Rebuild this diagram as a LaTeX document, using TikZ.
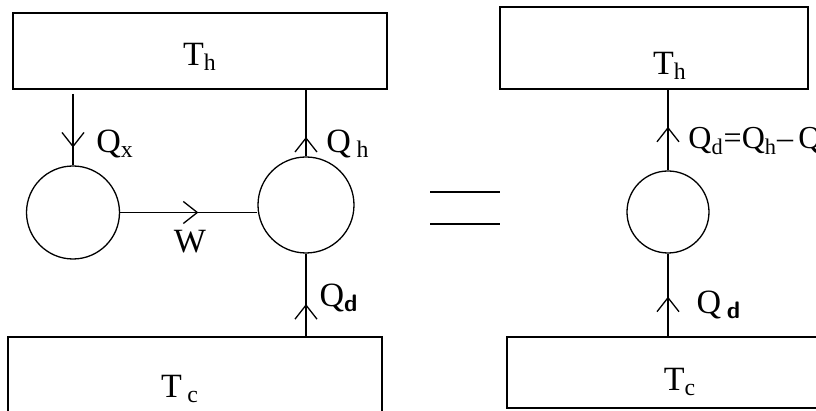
\documentclass[tikz,border=0pt]{standalone}
\usepackage{fontspec}
\setmainfont{Liberation Serif}
\usetikzlibrary{arrows.meta,positioning,calc,decorations.markings}

\tikzset{
  reservoir/.style={draw,line width=0.65pt,rectangle,inner sep=0pt},
  engine/.style={draw,line width=0.65pt,circle,inner sep=0pt},
  heatflow/.style={line width=0.65pt,postaction={decorate},
    decoration={markings,mark=at position #1 with {\arrow{Straight Barb[length=7pt,width=11pt,line width=0.65pt]}}}},
  lbl/.style={inner sep=0pt}
}

\begin{document}
\begin{tikzpicture}[x=0.5pt,y=0.5pt,font=\fontsize{17}{20}\selectfont]
  \useasboundingbox (0,0) rectangle (816,411);
  % left: engine driving a refrigerator
  \node[reservoir,minimum width=187pt,minimum height=38pt] (hot1) at (200,360) {};
  \node[reservoir,minimum width=187pt,minimum height=50pt] (cold1) at (195,24) {};
  \node[engine,minimum size=46.5pt] (eng) at (73,198.5) {};
  \node[engine,minimum size=48pt] (fridge) at (306,206) {};
  \node[lbl] (th1) at (200,354) {T\textsubscript{h}};
  \node[lbl] (tc1) at (180,22) {T\,\textsubscript{c}};
  \coordinate (qxin) at (73,317);
  \draw[heatflow=0.75] (qxin) -- (eng.north);
  \draw[heatflow=0.29] (fridge.north) -- (fridge.north |- hot1.south);
  \draw[heatflow=0.39] (fridge.south |- cold1.north) -- (fridge.south);
  \draw[heatflow=0.57] (eng.east) -- (eng.east -| fridge.west);
  \node[lbl] (qx) at (115,267) {Q\textsubscript{x}};
  \node[lbl] (qh) at (348,267) {Q\,\textsubscript{h}};
  \node[lbl] (w) at (190,169) {W};
  \node[lbl] (qd1) at (339,113) {Q\textsubscript{\sffamily\bfseries d}};
  % equals sign
  \draw[line width=0.65pt] (430,219) -- (500,219);
  \draw[line width=0.65pt] (430,187) -- (500,187);
  % right: net refrigerator
  \node[reservoir,minimum width=154pt,minimum height=41pt] (hot2) at (654,363) {};
  \node[reservoir,minimum width=173pt,minimum height=35.5pt] (cold2) at (680,38.5) {};
  \node[engine,minimum size=41pt] (net) at (668,199) {};
  \node[lbl] (th2) at (670,345) {T\textsubscript{h}};
  \node[lbl] (tc2) at (680,29) {T\textsubscript{c}};
  \draw[heatflow=0.54] (net.north) -- (net.north |- hot2.south);
  \draw[heatflow=0.48] (net.south |- cold2.north) -- (net.south);
  \node[lbl,anchor=west,font=\fontsize{16}{19}\selectfont] (qnet) at (688,270)
    {Q\textsubscript{d}=Q\textsubscript{h}{\textendash}\,Q\textsubscript{x}};
  \node[lbl] (qd2) at (719,106) {Q\,\textsubscript{\sffamily\bfseries d}};
\end{tikzpicture}
\end{document}
